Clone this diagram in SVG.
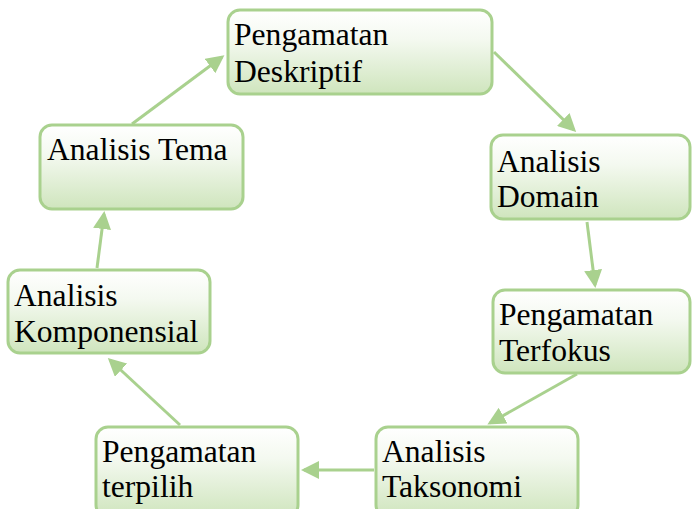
<svg xmlns="http://www.w3.org/2000/svg" width="692" height="509" viewBox="0 0 692 509">
<style>
.box{fill:url(#g);stroke:#a9d18e;stroke-width:3}
.t{font-family:"Liberation Serif","Times New Roman",serif;font-size:31.6px;fill:#000}
.c{stroke:#a9d18e;stroke-width:3;fill:none;marker-end:url(#a)}
</style>
<defs>
<linearGradient id="g" x1="0" y1="0" x2="0" y2="1">
<stop offset="0" stop-color="#ffffff"/>
<stop offset="0.35" stop-color="#f4f9f0"/>
<stop offset="1" stop-color="#cfe5bd"/>
</linearGradient>
<marker id="a" markerWidth="6" markerHeight="6" refX="5" refY="3" orient="auto" markerUnits="strokeWidth">
<path d="M0,0 L6,3 L0,6 z" fill="#a9d18e"/>
</marker>
</defs>
<g id="connectors">
<line class="c" x1="132" y1="124" x2="222" y2="57"/>
<line class="c" x1="494" y1="52" x2="574" y2="130"/>
<line class="c" x1="587" y1="222" x2="595" y2="285"/>
<line class="c" x1="577" y1="374" x2="490" y2="423"/>
<line class="c" x1="374" y1="470" x2="304" y2="470"/>
<line class="c" x1="180" y1="425" x2="110" y2="360"/>
<line class="c" x1="97" y1="268" x2="104" y2="214"/>
</g>
<g id="n1"><rect class="box" x="228" y="10" width="264" height="84" rx="12"/><text class="t" x="234" y="45">Pengamatan</text><text class="t" x="234" y="82">Deskriptif</text></g>
<g id="n2"><rect class="box" x="491" y="135" width="199" height="84" rx="12"/><text class="t" x="497" y="172">Analisis</text><text class="t" x="497" y="207">Domain</text></g>
<g id="n3"><rect class="box" x="493" y="290" width="197" height="83" rx="12"/><text class="t" x="499" y="325">Pengamatan</text><text class="t" x="499" y="361">Terfokus</text></g>
<g id="n4"><rect class="box" x="376" y="427" width="202" height="90" rx="12"/><text class="t" x="382" y="462">Analisis</text><text class="t" x="382" y="497">Taksonomi</text></g>
<g id="n5"><rect class="box" x="96" y="427" width="202" height="90" rx="12"/><text class="t" x="102" y="462">Pengamatan</text><text class="t" x="102" y="497">terpilih</text></g>
<g id="n6"><rect class="box" x="8" y="270" width="202" height="83" rx="12"/><text class="t" x="14" y="306">Analisis</text><text class="t" x="14" y="342">Komponensial</text></g>
<g id="n7"><rect class="box" x="40" y="125" width="203" height="84" rx="12"/><text class="t" x="47" y="160">Analisis Tema</text></g>
</svg>
